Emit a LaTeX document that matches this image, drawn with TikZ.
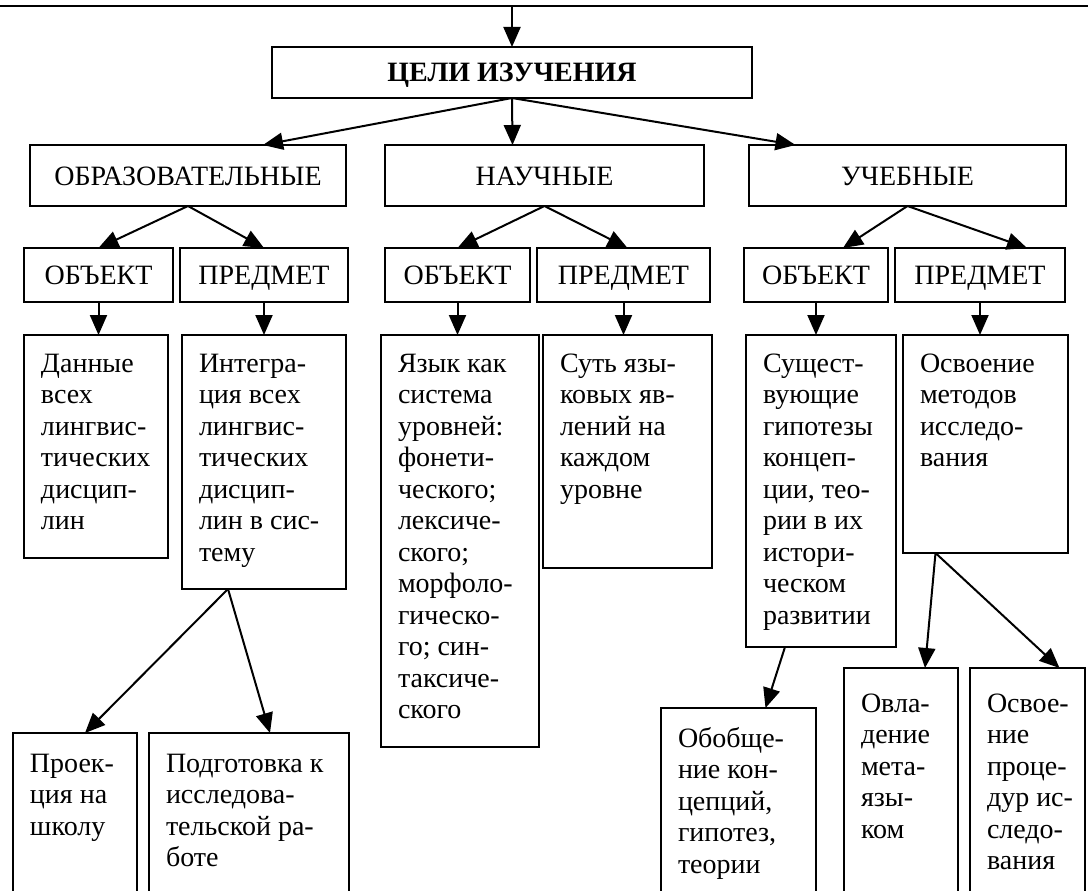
\documentclass[tikz,border=0pt]{standalone}
\usepackage{fontspec}
\setmainfont{Liberation Serif}
\usetikzlibrary{arrows.meta}

% text of a cell: first baseline #1 below the top, width #2, height #3
\newcommand{\cellbody}[4][37pt]{\parbox[b][#3][t]{\dimexpr#2-34pt\relax}{\rule{0pt}{#1}\begin{tabular}[t]{@{}l@{}}#4\end{tabular}}}

\begin{document}
\begin{tikzpicture}[x=1pt, y=-1pt,
    box/.style={rectangle, draw=black, line width=2pt, inner sep=0pt, outer sep=0pt, anchor=north west, font=\fontsize{28pt}{31.5pt}\selectfont},
    head/.style={box, minimum height=61pt, text height=20pt, text depth=1pt},
    sub/.style={box, minimum height=54pt, text height=20pt, text depth=1pt},
    cell/.style={box, inner xsep=17pt, inner ysep=0pt},
    arr/.style={line width=2pt, -{Triangle[length=20pt, width=17pt]}}]
        \useasboundingbox (0,0) rectangle (1088,891);
        \draw[line width=2pt] (0,6) -- (1088,6);
        \coordinate (src) at (512,6);

        \node[box, minimum width=480pt, minimum height=51pt, text height=20pt, text depth=1pt, font=\fontsize{28pt}{30pt}\selectfont\bfseries] (goal) at (272,47) {ЦЕЛИ ИЗУЧЕНИЯ};

        \node[head, minimum width=316pt] (obr) at (30,145) {ОБРАЗОВАТЕЛЬНЫЕ};
        \node[head, minimum width=319pt] (nauch) at (385,145) {НАУЧНЫЕ};
        \node[head, minimum width=317pt] (ucheb) at (749,145) {УЧЕБНЫЕ};

        \foreach \n/\x/\w/\t in {o1/24/149/ОБЪЕКТ, p1/180/168/ПРЕДМЕТ, o2/385/145/ОБЪЕКТ, p2/537/173/ПРЕДМЕТ, o3/744/144/ОБЪЕКТ, p3/895/170/ПРЕДМЕТ}
        {
            \node[sub, minimum width=\w] (\n) at (\x,248) {\t};
        }

        \node[cell] (d1) at (24,335) {\cellbody{144pt}{223pt}{Данные\\всех\\лингвис-\\тических\\дисцип-\\лин}};
        \node[cell] (d2) at (182,335) {\cellbody{164pt}{254pt}{Интегра-\\ция всех\\лингвис-\\тических\\дисцип-\\лин в сис-\\тему}};
        \node[cell] (d3) at (381,335) {\cellbody{158pt}{412pt}{Язык как\\система\\уровней:\\фонети-\\ческого;\\лексиче-\\ского;\\морфоло-\\гическо-\\го; син-\\таксиче-\\ского}};
        \node[cell] (d4) at (543,335) {\cellbody{169pt}{233pt}{Суть язы-\\ковых яв-\\лений на\\каждом\\уровне}};
        \node[cell] (d5) at (746,335) {\cellbody{150pt}{312pt}{Сущест-\\вующие\\гипотезы\\концеп-\\ции, тео-\\рии в их\\истори-\\ческом\\развитии}};
        \node[cell] (d6) at (903,335) {\cellbody{165pt}{218pt}{Освоение\\методов\\исследо-\\вания}};

        % bottom row runs past the lower edge
        \node[cell] (d7) at (13,733) {\cellbody[39pt]{124pt}{170pt}{Проек-\\ция на\\школу}};
        \node[cell] (d8) at (149,733) {\cellbody[39pt]{200pt}{170pt}{Подготовка к\\исследова-\\тельской ра-\\боте}};
        \node[cell] (d9) at (661,708) {\cellbody[39pt]{155pt}{195pt}{Обобще-\\ние кон-\\цепций,\\гипотез,\\теории}};
        \node[cell] (d10) at (844,668) {\cellbody[44pt]{114pt}{235pt}{Овла-\\дение\\мета-\\язы-\\ком}};
        \node[cell] (d11) at (970,668) {\cellbody[44pt]{115pt}{235pt}{Освое-\\ние\\проце-\\дур ис-\\следо-\\вания}};

        \draw[arr] (src) -- (goal.north);
        \draw[arr] (goal.south) -- ([xshift=75pt]obr.north);
        \draw[arr] (goal.south) -- ([xshift=-32pt]nauch.north);
        \draw[arr] (goal.south) -- ([xshift=-112pt]ucheb.north);

        \draw[arr] (obr.south) -- (o1.north);
        \draw[arr] (obr.south) -- (p1.north);
        \draw[arr] (nauch.south) -- (o2.north);
        \draw[arr] (nauch.south) -- ([xshift=4pt]p2.north);
        \draw[arr] (ucheb.south) -- ([xshift=27pt]o3.north);
        \draw[arr] (ucheb.south) -- ([xshift=47pt]p3.north);

        \draw[arr] (o1.south) -- (o1.south |- d1.north);
        \draw[arr] (p1.south) -- (p1.south |- d2.north);
        \draw[arr] (o2.south) -- (o2.south |- d3.north);
        \draw[arr] (p2.south) -- (p2.south |- d4.north);
        \draw[arr] (o3.south) -- (o3.south |- d5.north);
        \draw[arr] (p3.south) -- (p3.south |- d6.north);

        \draw[arr] ([xshift=-36pt]d2.south) -- ([xshift=10pt]d7.north);
        \draw[arr] ([xshift=-36pt]d2.south) -- ([xshift=21pt]d8.north);
        \draw[arr] ([xshift=-36pt]d5.south) -- ([xshift=27pt]d9.north);
        \draw[arr] ([xshift=-50pt]d6.south) -- ([xshift=24pt]d10.north);
        \draw[arr] ([xshift=-50pt]d6.south) -- ([xshift=32pt]d11.north);
    \end{tikzpicture}
\end{document}
